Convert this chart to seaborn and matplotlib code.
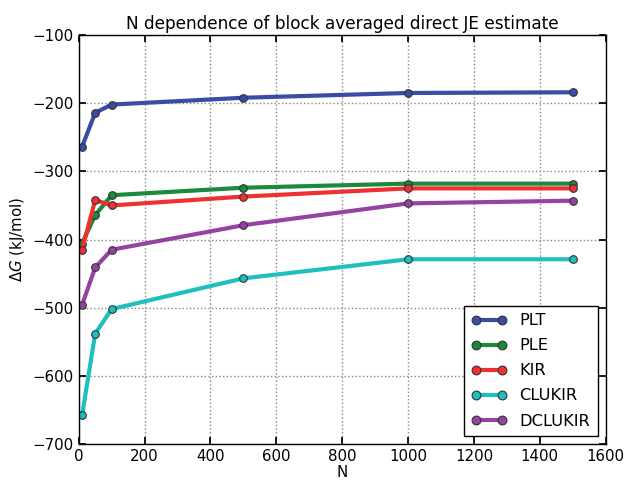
import matplotlib
matplotlib.use("Agg")
import matplotlib.pyplot as plt
import seaborn as sns
import pandas as pd

n_values = [10, 50, 100, 500, 1000, 1500]
plt_vals = [-264, -214, -202, -192, -185, -184]
ple_vals = [-406, -364, -335, -324, -318, -318]
kir_vals = [-415, -342, -350, -337, -325, -325]
clukir_vals = [-658, -538, -502, -457, -429, -429]
dclukir_vals = [-496, -441, -415, -379, -347, -343]

labels = ["PLT", "PLE", "KIR", "CLUKIR", "DCLUKIR"]
colors = ["#3b4ba6", "#1b8a3c", "#ee3030", "#20bfbf", "#9444a0"]

series = [plt_vals, ple_vals, kir_vals, clukir_vals, dclukir_vals]
df = pd.concat(
    [pd.DataFrame({"N": n_values, "dG": vals, "system": name})
     for name, vals in zip(labels, series)],
    ignore_index=True,
)

sns.set_theme(style="white")
plt.rcParams.update({
    "font.family": ["DejaVu Sans"],
    "xtick.direction": "in",
    "ytick.direction": "in",
    "xtick.major.size": 5,
    "ytick.major.size": 5,
    "axes.edgecolor": "black",
    "axes.linewidth": 1.0,
    "xtick.color": "black",
    "ytick.color": "black",
    "axes.labelcolor": "black",
    "text.color": "black",
    "legend.numpoints": 2,
})

fig, ax = plt.subplots(figsize=(6.25, 4.8), dpi=100)
sns.lineplot(
    data=df, x="N", y="dG", hue="system", hue_order=labels,
    palette=colors, linewidth=3.0, marker="o", markersize=5.5,
    markeredgecolor="#333333", markeredgewidth=0.8, ax=ax,
)

ax.set_xlim(0, 1600)
ax.set_ylim(-700, -100)
ax.set_xticks(range(0, 1601, 200))
ax.set_yticks(range(-700, -99, 100))
ax.tick_params(labelsize=10.8, top=True, right=True, bottom=True, left=True)
ax.grid(True, color="#888888", linestyle=":", linewidth=1.0)
ax.set_title("N dependence of block averaged direct JE estimate",
             fontsize=12.2, pad=4)
ax.set_xlabel("N", fontsize=10.8, labelpad=1)
ax.set_ylabel(r"$\Delta G$ (kJ/mol)", fontsize=10.8)

leg = ax.legend(loc="lower right", fontsize=11.7, frameon=True, fancybox=False,
                borderpad=0.45, handlelength=2.15, labelspacing=0.62,
                numpoints=2, markerscale=1.15)
leg.get_frame().set_edgecolor("black")
leg.get_frame().set_linewidth(1.0)
leg.get_frame().set_alpha(1.0)

fig.subplots_adjust(left=0.126, right=0.969, bottom=0.075, top=0.927)
fig.savefig("out.png", dpi=100)
